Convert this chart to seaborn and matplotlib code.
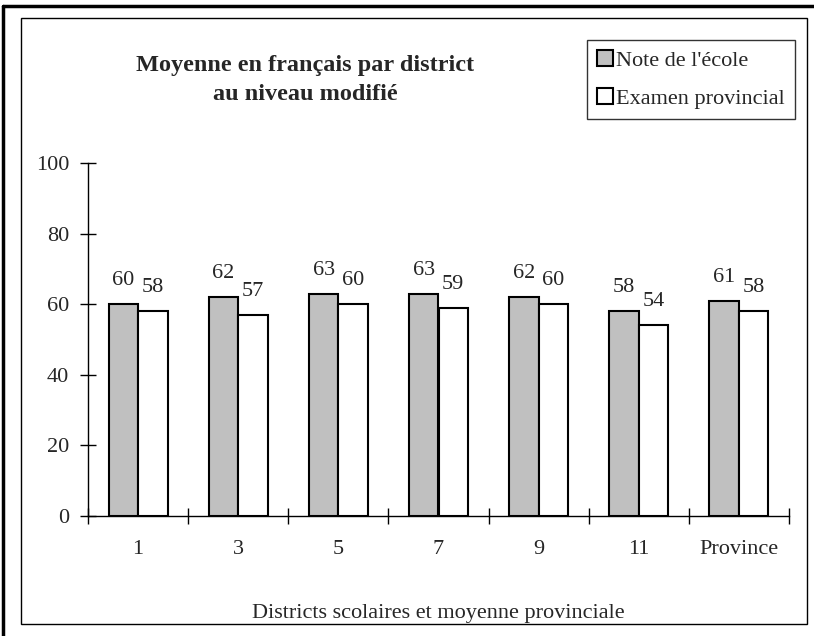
import numpy as np
import pandas as pd
import matplotlib.pyplot as plt
import seaborn as sns
from matplotlib.lines import Line2D
from matplotlib.patches import Rectangle

districts = ["1", "3", "5", "7", "9", "11", "Province"]
note_ecole = [60, 62, 63, 63, 62, 58, 61]
examen_prov = [58, 57, 60, 59, 60, 54, 58]
series = ["Note de l'école", "Examen provincial"]

df = pd.DataFrame({
    "district": districts * 2,
    "serie": [series[0]] * len(districts) + [series[1]] * len(districts),
    "moyenne": note_ecole + examen_prov,
})

sns.set_style("white")
plt.rcParams["font.family"] = ["Liberation Serif", "DejaVu Serif"]

W, H = 814, 636
fig = plt.figure(figsize=(W / 100, H / 100), dpi=100)
ax = fig.add_axes([88 / W, 1 - 516 / H, (789 - 88) / W, (516 - 163) / H])

sns.barplot(data=df, x="district", y="moyenne", hue="serie", order=districts,
            hue_order=series, palette={series[0]: "#c0c0c0", series[1]: "white"},
            edgecolor="black", linewidth=1.5, width=0.59, saturation=1, ax=ax)

for cont in ax.containers:
    ax.bar_label(cont, fmt="%d", padding=10, fontsize=16)

ax.set_xlim(-0.5, len(districts) - 0.5)
ax.set_ylim(0, 100)
ax.set_yticks(range(0, 101, 20))
ax.set_xticks(np.arange(-0.5, len(districts), 1.0), minor=True)
ax.tick_params(axis="y", left=True, direction="inout", length=11, width=1,
               labelsize=16, pad=8, color="black")
ax.tick_params(axis="x", which="major", bottom=False, length=0, labelsize=16, pad=17)
ax.tick_params(axis="x", which="minor", bottom=True, direction="inout", length=12,
               width=1, color="black")
for s in ["top", "right"]:
    ax.spines[s].set_visible(False)
for s in ["left", "bottom"]:
    ax.spines[s].set_color("black")
    ax.spines[s].set_linewidth(1)
ax.set_ylabel("")
ax.set_xlabel("Districts scolaires et moyenne provinciale", fontsize=16, labelpad=33)

fig.text(305 / W, 1 - 80 / H, "Moyenne en français par district\nau niveau modifié",
         ha="center", va="center", fontsize=17.5, fontweight="bold", linespacing=1.55)

ax.get_legend().remove()
handles = [Rectangle((0, 0), 1, 1, facecolor="#c0c0c0", edgecolor="black", linewidth=1.5),
           Rectangle((0, 0), 1, 1, facecolor="white", edgecolor="black", linewidth=1.5)]
leg = fig.legend(handles, series, loc="upper right", bbox_to_anchor=(795 / W, 1 - 40 / H),
                 fontsize=16, frameon=True, fancybox=False, handlelength=0.7,
                 handleheight=0.7, handletextpad=0.15, labelspacing=0.8,
                 borderpad=0.45, borderaxespad=0)
leg.get_frame().set_edgecolor("black")
leg.get_frame().set_linewidth(1)

# cadres
fig.add_artist(Rectangle((21 / W, 1 - 624 / H), (807 - 21) / W, (624 - 18) / H,
                         transform=fig.transFigure, fill=False, edgecolor="black", linewidth=1))
fig.add_artist(Line2D([3 / W, 3 / W], [0, 1 - 6 / H], transform=fig.transFigure, color="black", linewidth=2.5))
fig.add_artist(Line2D([3 / W, 1], [1 - 6 / H, 1 - 6 / H], transform=fig.transFigure, color="black", linewidth=2.5))

fig.savefig("out.png", dpi=100)
